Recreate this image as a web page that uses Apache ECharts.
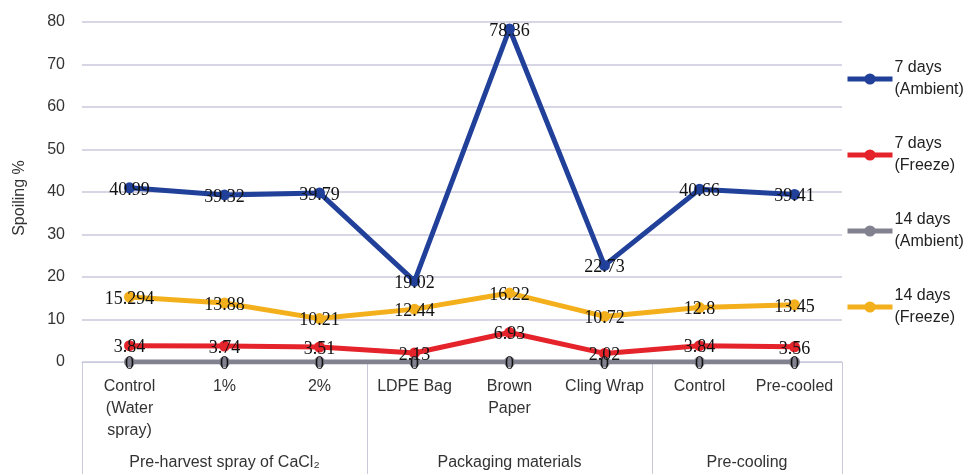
<!DOCTYPE html>
<html>
<head>
<meta charset="utf-8">
<script src="https://cdn.jsdelivr.net/npm/echarts@6/dist/echarts.min.js"></script>
<style>
  html, body { margin: 0; padding: 0; background: #fff; }
  #chart { width: 966px; height: 474px; }
</style>
</head>
<body>
<div id="chart"></div>
<script>
// Treatments along the x axis
const categories = ['Control\n(Water\nspray)', '1%', '2%', 'LDPE Bag', 'Brown\nPaper', 'Cling Wrap', 'Control', 'Pre-cooled'];

// Spoiling % per storage condition
const ambient7 = [40.99, 39.32, 39.79, 19.02, 78.36, 22.73, 40.66, 39.41];
const freeze7 = [3.84, 3.74, 3.51, 2.13, 6.93, 2.02, 3.84, 3.56];
const ambient14 = [0, 0, 0, 0, 0, 0, 0, 0];
const freeze14 = [15.294, 13.88, 10.21, 12.44, 16.22, 10.72, 12.8, 13.45];

const seriesNames = ['7 days\n(Ambient)', '7 days\n(Freeze)', '14 days\n(Ambient)', '14 days\n(Freeze)'];
const seriesColors = ['#21409a', '#e5232a', '#81818f', '#f4b01c'];

// Treatment groups: name and number of categories in each
const groupNames = ['Pre-harvest spray of CaCl₂', 'Packaging materials', 'Pre-cooling'];
const groupSizes = [3, 3, 2];

// Secondary axis on half-category steps so group labels centre over their span
const halfSlots = categories.length * 2 + 1;
const groupAxisData = new Array(halfSlots).fill('');
const groupLabelIdx = [];
const groupEdgeIdx = [0];
let start = 0;
groupSizes.forEach((n, i) => {
  const mid = start * 2 + n;
  groupAxisData[mid] = groupNames[i];
  groupLabelIdx.push(mid);
  start += n;
  groupEdgeIdx.push(start * 2);
});

const gridColor = '#c9c9dc';
const sansFont = '"Liberation Sans", Arial, sans-serif';

const chart = echarts.init(document.getElementById('chart'));

function makeSeries(name, data, color) {
  return {
    name: name,
    type: 'line',
    data: data,
    symbol: 'circle',
    symbolSize: 11,
    lineStyle: { width: 5, color: color },
    itemStyle: { color: color },
    label: {
      show: true,
      position: 'inside',
      offset: [0, 2],
      fontFamily: '"Liberation Serif", "Times New Roman", serif',
      fontSize: 18,
      color: '#111'
    },
    emphasis: { disabled: true },
    animation: false
  };
}

chart.setOption({
  animation: false,
  grid: { left: 82, right: 124, top: 22, bottom: 112 },
  legend: {
    orient: 'vertical',
    left: 840,
    top: 41,
    itemWidth: 45,
    itemHeight: 14,
    itemGap: 10,
    lineStyle: { width: 5 },
    data: seriesNames,
    textStyle: {
      fontFamily: sansFont,
      fontSize: 16,
      color: '#222',
      lineHeight: 22,
      padding: [22, 0, 0, -3]
    }
  },
  xAxis: [
    {
      type: 'category',
      data: categories,
      boundaryGap: true,
      axisLine: { show: true, lineStyle: { color: gridColor, width: 1 } },
      axisTick: { show: false },
      axisLabel: {
        interval: 0,
        margin: 14,
        fontFamily: sansFont,
        fontSize: 16,
        lineHeight: 22,
        color: '#333'
      }
    },
    {
      type: 'category',
      data: groupAxisData,
      boundaryGap: false,
      position: 'bottom',
      axisLine: { show: false },
      axisTick: {
        show: true,
        length: 112,
        interval: (i) => groupEdgeIdx.includes(i),
        lineStyle: { color: gridColor, width: 1 }
      },
      axisLabel: {
        interval: (i) => groupLabelIdx.includes(i),
        margin: 93,
        fontFamily: sansFont,
        fontSize: 16,
        color: '#333'
      }
    }
  ],
  yAxis: {
    type: 'value',
    min: 0,
    max: 80,
    interval: 10,
    name: 'Spoiling %',
    nameLocation: 'middle',
    nameGap: 54,
    nameTextStyle: { fontFamily: sansFont, fontSize: 16, color: '#333', padding: [0, 12, 0, 0] },
    axisLine: { show: false },
    axisTick: { show: false },
    axisLabel: { margin: 17, fontFamily: sansFont, fontSize: 16, color: '#333' },
    splitLine: { lineStyle: { color: gridColor, width: 1.5 } }
  },
  series: [
    makeSeries(seriesNames[0], ambient7, seriesColors[0]),
    makeSeries(seriesNames[1], freeze7, seriesColors[1]),
    makeSeries(seriesNames[2], ambient14, seriesColors[2]),
    makeSeries(seriesNames[3], freeze14, seriesColors[3])
  ]
});
</script>
</body>
</html>
